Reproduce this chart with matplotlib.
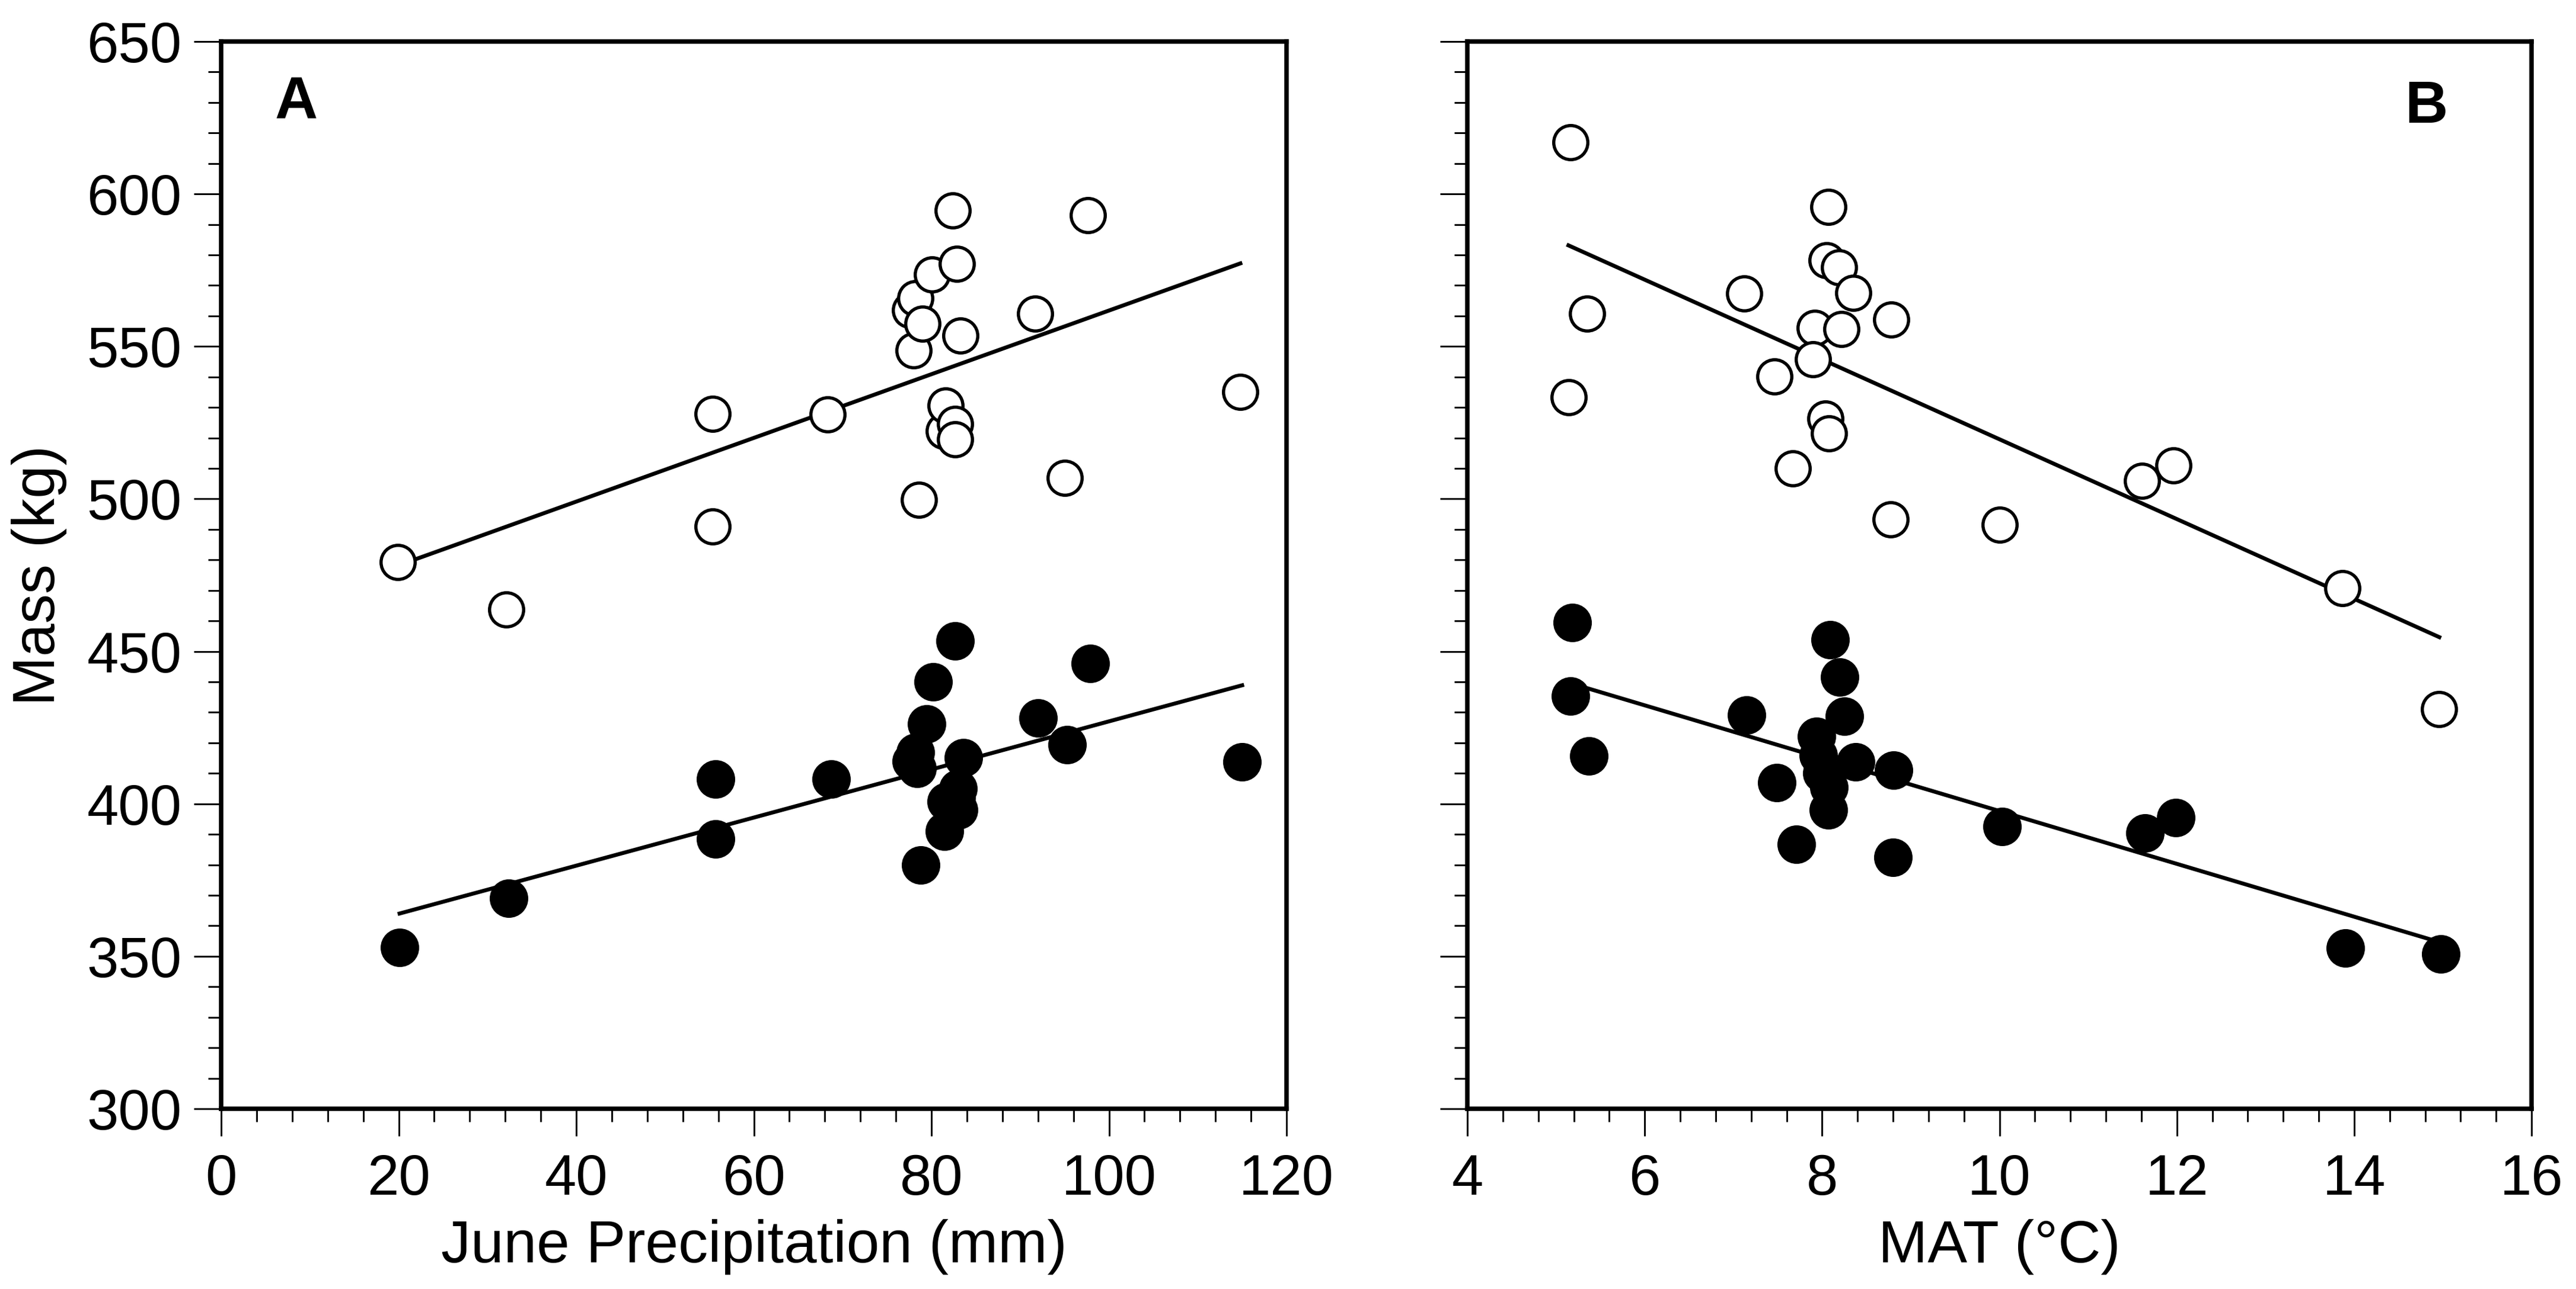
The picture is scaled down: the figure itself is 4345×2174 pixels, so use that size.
import numpy as np
import matplotlib
matplotlib.use("Agg")
import matplotlib.pyplot as plt
from matplotlib.ticker import MultipleLocator

plt.rcParams['font.family'] = ['Liberation Sans', 'DejaVu Sans']

# ---------------- Data ----------------
# Panel A: June precipitation (mm) vs mass (kg)
precip_open = [19.9, 32.1, 55.35, 55.35, 68.3, 77.6, 78.0, 78.2, 78.6, 79.0,
               80.1, 81.4, 81.6, 82.4, 82.7, 82.7, 82.9, 83.3, 91.7, 95.0,
               97.6, 114.8]
mass_open_A = [479.3, 463.7, 527.9, 491.0, 527.6, 561.9, 548.7, 565.8, 499.7, 557.4,
               573.6, 522.3, 530.6, 594.6, 524.5, 519.5, 577.0, 553.5, 560.8, 506.9,
               593.1, 535.1]

precip_filled = [20.1, 32.4, 55.7, 55.7, 68.7, 77.7, 78.2, 78.4, 78.8, 79.45,
                 80.2, 81.5, 81.7, 82.7, 82.8, 83.0, 83.1, 83.6, 92.0, 95.3,
                 97.9, 115.0]
mass_filled_A = [352.9, 369.1, 408.2, 388.4, 408.2, 414.0, 416.8, 411.6, 380.0, 426.1,
                 440.0, 391.0, 400.7, 453.5, 402.0, 405.0, 398.0, 415.1, 428.1, 419.3,
                 446.1, 413.8]

# Panel B: MAT (deg C) vs mass (kg)
mat_open = [5.16, 8.07, 8.05, 8.19, 8.35, 7.12, 5.35, 8.78, 7.92, 8.22,
            7.90, 7.46, 5.14, 8.04, 8.08, 7.67, 8.77, 10.0, 11.61, 11.96,
            13.87, 14.96]
mass_open_B = [617.0, 595.8, 578.3, 575.9, 567.6, 567.4, 560.8, 558.8, 556.1, 555.7,
               545.8, 540.2, 533.3, 526.3, 521.4, 510.0, 493.2, 491.6, 505.9, 511.0,
               470.8, 431.1]

mat_filled = [5.18, 8.09, 8.20, 5.16, 7.15, 8.25, 7.94, 7.96, 8.38, 8.81,
              5.37, 7.49, 8.08, 8.07, 10.03, 11.64, 11.99, 7.71, 8.80, 13.90,
              14.98, 8.00]
mass_filled_B = [459.5, 453.9, 441.6, 435.4, 429.1, 428.7, 422.2, 415.8, 413.8, 411.0,
                 415.6, 406.9, 405.3, 398.0, 392.6, 390.4, 395.4, 386.8, 382.5, 352.7,
                 350.7, 410.0]

y_ticks = [300, 350, 400, 450, 500, 550, 600, 650]
xA_ticks = [0, 20, 40, 60, 80, 100, 120]
xB_ticks = [4, 6, 8, 10, 12, 14, 16]

# ---------------- Figure ----------------
W, H = 4345, 2174
fig = plt.figure(figsize=(W / 300, H / 300), dpi=300)
axA = fig.add_axes([373 / W, 1 - 1870 / H, 1797 / W, 1800 / H])
axB = fig.add_axes([2475 / W, 1 - 1870 / H, 1795 / W, 1800 / H])

def style(ax, xt, xminor):
    ax.set_ylim(300, 650)
    ax.set_xlim(xt[0], xt[-1])
    ax.set_yticks(y_ticks)
    ax.set_xticks(xt)
    ax.yaxis.set_minor_locator(MultipleLocator(10))
    ax.xaxis.set_minor_locator(MultipleLocator(xminor))
    for s in ax.spines.values():
        s.set_linewidth(1.8)
    ax.tick_params(which='major', direction='out', length=11, width=0.7,
                   labelsize=23, top=False, right=False)
    ax.tick_params(which='minor', direction='out', length=5.3, width=0.7,
                   top=False, right=False)
    ax.tick_params(axis='y', which='major', pad=5)
    ax.tick_params(axis='x', which='major', pad=7)

def draw(ax, xo, yo, xf, yf):
    ax.plot(xo, yo, 'o', ms=13.8, mfc='white', mec='black', mew=1.3, ls='none', zorder=3)
    ax.plot(xf, yf, 'o', ms=15, mfc='black', mec='black', mew=0.6, ls='none', zorder=3)
    for xs, ys in ((xo, yo), (xf, yf)):
        xs = np.asarray(xs); ys = np.asarray(ys)
        b, a = np.polyfit(xs, ys, 1)
        xx = np.array([xs.min(), xs.max()])
        ax.plot(xx, a + b * xx, color='black', lw=1.6, zorder=2)

style(axA, xA_ticks, 4)
style(axB, xB_ticks, 0.4)
draw(axA, precip_open, mass_open_A, precip_filled, mass_filled_A)
draw(axB, mat_open, mass_open_B, mat_filled, mass_filled_B)

axB.set_yticklabels([])

axA.set_xlabel('June Precipitation (mm)', fontsize=24, labelpad=5)
axB.set_xlabel('MAT (°C)', fontsize=24, labelpad=5)
axA.set_ylabel('Mass (kg)', fontsize=24, labelpad=8)

axA.text(0.0707, 0.9417, 'A', transform=axA.transAxes, fontsize=24,
         fontweight='bold', ha='center', va='center')
axB.text(0.9008, 0.9386, 'B', transform=axB.transAxes, fontsize=24,
         fontweight='bold', ha='center', va='center')

fig.savefig('out.png', dpi=300, facecolor='white')
